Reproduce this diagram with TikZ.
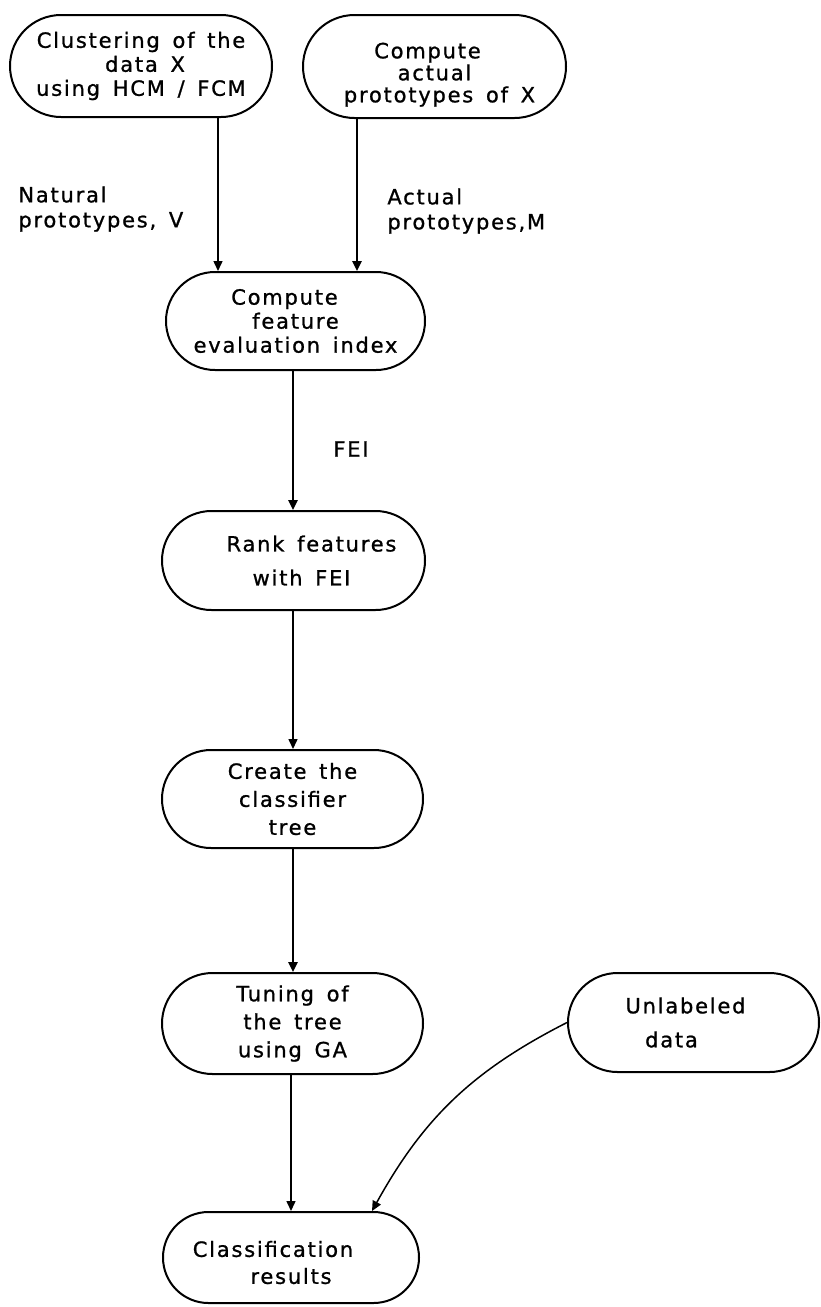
\documentclass[tikz,border=0pt]{standalone}
\usepackage{fontspec}
\setmainfont[LetterSpace=8.5,WordSpace=1.5,FakeBold=1]{DejaVu Sans}
\usetikzlibrary{shapes.misc,arrows.meta,calc}
\begin{document}
\begin{tikzpicture}[x=0.5pt,y=0.5pt,
  box/.style={draw, line width=1pt, rounded rectangle, inner sep=0pt, align=center,
    font=\fontsize{10.5}{12}\selectfont},
  lbl/.style={inner sep=0pt, align=left, font=\fontsize{10.5}{12.5}\selectfont},
  arr/.style={-{Triangle[length=5pt,width=4.5pt]}, line width=0.75pt},
  thk/.style={line width=1.2pt}]
\useasboundingbox (0,0) rectangle (820,-1307);

\node[box, minimum width=131pt, minimum height=51pt] (n1) at (141,-66)
  {Clustering of the\\\hspace*{4pt}data X\\using HCM / FCM};
\node[box, minimum width=131.5pt, minimum height=51.5pt] (n2) at (434.5,-66.5)
  {\rule{0pt}{16pt}Compute\hspace*{7pt}\\[-1pt]actual\hspace*{15pt}\\[-1pt]\hspace*{5pt}prototypes of X};
\node[box, minimum width=129.5pt, minimum height=49pt] (n3) at (295.5,-321)
  {Compute\hspace*{11pt}\\feature\hspace*{8pt}\\evaluation index};
\node[box, minimum width=131.5pt, minimum height=49.5pt] (n4) at (293.5,-560.5)
  {\hspace*{18pt}Rank features\\[5pt]\hspace*{8pt}with FEI};
\node[box, minimum width=130.5pt, minimum height=49pt] (n5) at (292.5,-799)
  {Create the\\[2pt]classifier\\[2pt]tree};
\node[box, minimum width=130.5pt, minimum height=50.5pt] (n6) at (292.5,-1023.5)
  {Tuning of\\[2pt]the tree\\[2pt]using GA};
\node[box, minimum width=125.5pt, minimum height=49.5pt] (n7) at (693.5,-1022.5)
  {Unlabeled\hspace*{8pt}\\[5pt]data\hspace*{22pt}};
\node[box, minimum width=128pt, minimum height=45.5pt] (n8) at (291,-1257.5)
  {\rule{0pt}{13pt}Classification\hspace*{18pt}\\[1.5pt]results};

\node[lbl, anchor=north west] (lV) at (18,-186) {Natural\\prototypes, V};
\node[lbl, anchor=north west] (lM) at (387,-188) {Actual\\prototypes,M};
\node[lbl, anchor=west] (lF) at (333,-449) {FEI};

\coordinate (a1) at (218,0);
\coordinate (a2) at (357,0);
\coordinate (a3) at (293,0);
\coordinate (a6) at (291,0);
\coordinate (a7) at (372,0);

\draw[arr] (n1.south -| a1) -- (n3.north -| a1);
\draw[arr,thk] (n2.south -| a2) -- (n3.north -| a2);
\draw[arr,thk] (n3.south -| a3) -- (n4.north -| a3);
\draw[arr] (n4.south -| a3) -- (n5.north -| a3);
\draw[arr,thk] (n5.south -| a3) -- (n6.north -| a3);
\draw[arr] (n6.south -| a6) -- (n8.north -| a6);
\draw[arr] (n7.west) to[out=207,in=61] (n8.north -| a7);
\end{tikzpicture}
\end{document}
